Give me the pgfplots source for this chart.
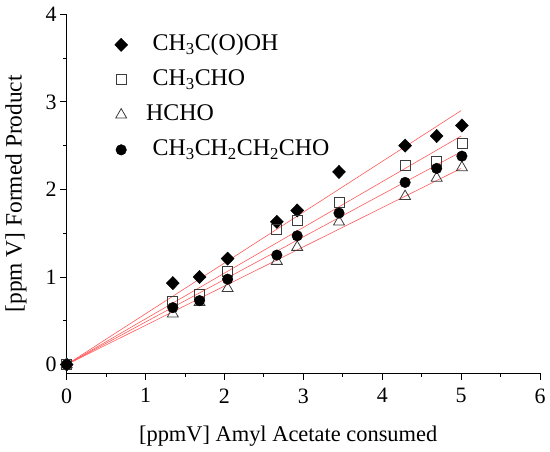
\documentclass[border=0pt]{standalone}
\usepackage{fontspec}
\setmainfont{Liberation Serif}
\usepackage{pgfplots}
\pgfplotsset{compat=1.18}
\definecolor{fitred}{RGB}{255,90,90}
\definecolor{mk}{RGB}{60,60,60}
\begin{document}
\begin{tikzpicture}
\begin{axis}[
  scale only axis, width=473.3bp, height=359bp,
  xmin=0, xmax=6, ymin=-0.1, ymax=4,
  axis lines=left, axis line style={-, line width=0.9bp},
  xtick={0,1,2,3,4,5,6}, ytick={0,1,2,3,4},
  minor x tick num=1, minor y tick num=1,
  tick align=outside, major tick length=6.7bp, minor tick length=3.5bp,
  every tick/.style={black, line width=0.9bp},
  /pgf/number format/assume math mode=true,
  tick label style={font=\fontsize{22}{22}\selectfont},
  xticklabel style={yshift=-5bp},
  xlabel={[ppmV] Amyl Acetate consumed},
  ylabel={[ppm V] Formed Product},
  xlabel style={font=\fontsize{22.5}{22.5}\selectfont, at={(axis description cs:0.468,-0.1747)}, anchor=center},
  ylabel style={font=\fontsize{23.5}{23.5}\selectfont, at={(axis description cs:-0.107,0.5)}, anchor=center},
  legend style={at={(axis cs:0.606,3.779)}, anchor=north west, draw=none, fill=none,
    inner sep=0pt, font=\fontsize{24}{24}\selectfont, row sep=13bp,
    nodes={inner sep=0pt, text height=17bp, text depth=5bp},
    /tikz/every odd column/.append style={column sep=25bp}},
  legend cell align=left,
]
\addplot[fitred, line width=0.6bp, forget plot] coordinates {(0,0) (5,2.90)};
\addplot[fitred, line width=0.6bp, forget plot] coordinates {(0,0) (5,2.61)};
\addplot[fitred, line width=0.6bp, forget plot] coordinates {(0,0) (5,2.43)};
\addplot[fitred, line width=0.6bp, forget plot] coordinates {(0,0) (5,2.24)};

\addplot[only marks, mark=diamond*, mark size=6.65bp, mark options={xscale=1.3, fill=black, draw=black}]
coordinates {(0,0) (1.345,0.93) (1.684,1.00) (2.04,1.21) (2.664,1.63) (2.922,1.76) (3.452,2.20) (4.29,2.50) (4.69,2.61) (5.01,2.73)};
\addlegendentry{CH\textsubscript{3}C(O)OH}

\addplot[only marks, mark=square, mark size=5bp, mark options={draw=mk, line width=0.8bp}]
coordinates {(0,0) (1.345,0.72) (1.684,0.80) (2.04,1.06) (2.664,1.54) (2.922,1.65) (3.452,1.85) (4.29,2.28) (4.69,2.32) (5.01,2.52)};
\addlegendentry{CH\textsubscript{3}CHO}

\addplot[only marks, mark=triangle, mark size=6.3bp, mark options={draw=mk, line width=0.8bp}]
coordinates {(0,0) (1.345,0.58) (1.684,0.71) (2.04,0.87) (2.664,1.18) (2.922,1.34) (3.452,1.63) (4.29,1.92) (4.69,2.13) (5.01,2.25)};
\addlegendentry{\hspace*{-6.6bp}HCHO}

\addplot[only marks, mark=*, mark size=5.3bp, mark options={fill=black, draw=black}]
coordinates {(0,0) (1.345,0.65) (1.684,0.73) (2.04,0.975) (2.664,1.25) (2.922,1.47) (3.452,1.73) (4.29,2.08) (4.69,2.24) (5.01,2.38)};
\addlegendentry{CH\textsubscript{3}CH\textsubscript{2}CH\textsubscript{2}CHO}
\end{axis}
\pgfresetboundingbox
\path[use as bounding box] (-66.7bp,-78.7bp) rectangle (483.3bp,373.3bp);
\end{tikzpicture}
\end{document}
